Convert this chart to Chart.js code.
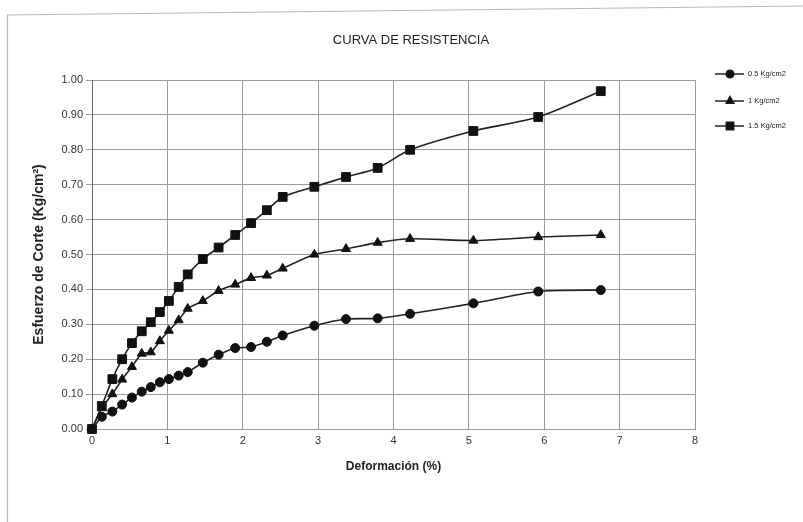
<!DOCTYPE html>
<html>
<head>
<meta charset="utf-8">
<script src="https://cdn.jsdelivr.net/npm/chart.js@4.4.1/dist/chart.umd.min.js"></script>
<style>
  html, body { margin: 0; padding: 0; background: #fff; }
  #wrap { width: 803px; height: 522px; }
</style>
</head>
<body>
<div id="wrap"><canvas id="curva" width="803" height="522"></canvas></div>
<script>
// Deformación (%) - common for the three tests
const deformacion = [0, 0.13, 0.27, 0.40, 0.53, 0.66, 0.78, 0.90, 1.02, 1.15, 1.27, 1.47,
    1.68, 1.90, 2.11, 2.32, 2.53, 2.95, 3.37, 3.79, 4.22, 5.06, 5.92, 6.75];

// Esfuerzo de corte (Kg/cm2)
const esf05 = [0, 0.035, 0.05, 0.07, 0.09, 0.107, 0.12, 0.134, 0.143, 0.153, 0.163, 0.19,
    0.213, 0.232, 0.235, 0.25, 0.268, 0.296, 0.315, 0.317, 0.33, 0.36, 0.394, 0.398];
const esf10 = [0, 0.06, 0.10, 0.142, 0.178, 0.216, 0.22, 0.252, 0.282, 0.312, 0.345, 0.367,
    0.396, 0.414, 0.433, 0.44, 0.46, 0.50, 0.516, 0.534, 0.545, 0.54, 0.55, 0.556];
const esf15 = [0, 0.066, 0.143, 0.20, 0.246, 0.28, 0.306, 0.335, 0.367, 0.407, 0.443, 0.487,
    0.52, 0.556, 0.59, 0.627, 0.665, 0.694, 0.722, 0.748, 0.80, 0.854, 0.894, 0.968];

const seriesNames = ['0.5 Kg/cm2', '1 Kg/cm2', '1.5 Kg/cm2'];
const seriesStyles = ['circle', 'triangle', 'rect'];
const seriesRadius = [4.5, 5.2, 6.2];

const chartTitle = 'CURVA DE RESISTENCIA';
const xMin = 0, xMax = 8, xStep = 1;
const yMin = 0, yMax = 1, yStep = 0.1;

const fontFam = '"Liberation Sans", Arial, sans-serif';

function toPoints(ys) {
    return deformacion.map((x, i) => ({ x: x, y: ys[i] }));
}

// page frame of the scanned sheet + white background
const framePlugin = {
    id: 'frame',
    beforeDraw(chart) {
        const ctx = chart.ctx;
        ctx.save();
        ctx.fillStyle = '#fff';
        ctx.fillRect(0, 0, chart.width, chart.height);
        ctx.strokeStyle = '#b8b8b8';
        ctx.lineWidth = 1.2;
        ctx.beginPath();
        ctx.moveTo(7.5, 522);
        ctx.lineTo(7.5, 15);
        ctx.lineTo(803, 6);
        ctx.stroke();
        ctx.restore();
    }
};

// title (placed like the sheet, not centred on the canvas) and the small legend
const sheetPlugin = {
    id: 'sheet',
    afterDraw(chart) {
        const ctx = chart.ctx;
        ctx.save();
        ctx.font = '13px ' + fontFam;
        ctx.fillStyle = '#222';
        ctx.textAlign = 'center';
        ctx.textBaseline = 'middle';
        ctx.fillText(chartTitle, 411, 40);

        const rows = [74, 101, 126];
        chart.data.datasets.forEach((ds, i) => {
            const y = rows[i];
            ctx.strokeStyle = '#222';
            ctx.lineWidth = 1.5;
            ctx.beginPath();
            ctx.moveTo(715, y);
            ctx.lineTo(744, y);
            ctx.stroke();
            ctx.fillStyle = '#111';
            Chart.helpers.drawPoint(ctx, { pointStyle: ds.pointStyle, radius: ds.pointRadius * 0.85, borderWidth: 1 }, 730, y);
            ctx.fill();
            ctx.font = '7.5px ' + fontFam;
            ctx.fillStyle = '#222';
            ctx.textAlign = 'left';
            ctx.fillText(ds.label, 748, y);
        });
        ctx.restore();
    }
};

const datasets = [esf05, esf10, esf15].map((ys, i) => ({
    label: seriesNames[i],
    data: toPoints(ys),
    showLine: true,
    borderColor: '#222',
    borderWidth: 1.6,
    backgroundColor: '#111',
    pointBackgroundColor: '#111',
    pointBorderColor: '#111',
    pointStyle: seriesStyles[i],
    pointRadius: seriesRadius[i],
    pointBorderWidth: 1,
    tension: 0.25,
    clip: false
}));

new Chart(document.getElementById('curva').getContext('2d'), {
    type: 'scatter',
    data: { datasets: datasets },
    plugins: [framePlugin, sheetPlugin],
    options: {
        responsive: false,
        animation: false,
        layout: { padding: { left: 0, right: 108, top: 80, bottom: 0 } },
        plugins: {
            legend: { display: false },
            tooltip: { enabled: false },
            title: { display: false }
        },
        scales: {
            x: {
                type: 'linear',
                min: xMin,
                max: xMax,
                ticks: {
                    stepSize: xStep,
                    color: '#333',
                    padding: 5,
                    font: { family: fontFam, size: 11 }
                },
                grid: { color: '#9a9a9a', lineWidth: 1, drawTicks: false },
                border: { color: '#9a9a9a' },
                title: {
                    display: true,
                    text: 'Deformación (%)',
                    color: '#222',
                    font: { family: fontFam, size: 12, weight: 'bold' },
                    padding: { top: 0, bottom: 48 }
                },
                afterFit(scale) { scale.height = 93; }
            },
            y: {
                type: 'linear',
                min: yMin,
                max: yMax,
                ticks: {
                    stepSize: yStep,
                    color: '#333',
                    padding: 3,
                    font: { family: fontFam, size: 11 },
                    callback: v => v.toFixed(2)
                },
                grid: { color: '#9a9a9a', lineWidth: 1, tickLength: 6 },
                border: { color: '#666' },
                title: {
                    display: true,
                    text: 'Esfuerzo de Corte (Kg/cm²)',
                    color: '#222',
                    font: { family: fontFam, size: 14, weight: 'bold' },
                    padding: { top: 31, bottom: 0 }
                },
                afterFit(scale) { scale.width = 92; }
            }
        }
    }
});
</script>
</body>
</html>
